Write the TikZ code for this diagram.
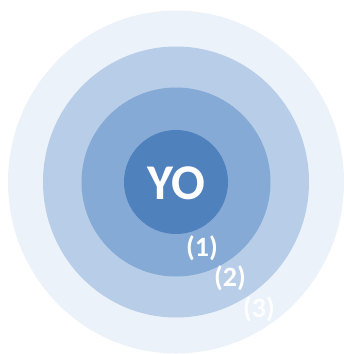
\documentclass[tikz,border=0pt]{standalone}
\usepackage{fontspec}
\setmainfont{Carlito}
\definecolor{azul1}{HTML}{4F81BD}
\definecolor{azul2}{HTML}{85AAD6}
\definecolor{azul3}{HTML}{B8CDE7}
\definecolor{azul4}{HTML}{ECF2F9}
\tikzset{
  etiqueta/.style={text=white, font=\fontsize{28}{30}\selectfont\bfseries},
}
\begin{document}
\begin{tikzpicture}[x=1pt, y=-1pt]
\useasboundingbox (0,0) rectangle (344,354);
% Circulos concentricos
\fill[azul4] (176,182) ellipse [x radius=168, y radius=171.5];
\fill[azul3] (176,182) ellipse [x radius=133, y radius=135.5];
\fill[azul2] (176,182) circle (94.5);
\fill[azul1] (176,182) circle (52);
% Texto central
\node[text=white, font=\fontsize{50}{52}\selectfont\bfseries] (yo) at (176,183) {YO};
% Niveles
\node[etiqueta] (n1) at (202,248.5) {(1)};
\node[etiqueta] (n2) at (230,278.5) {(2)};
\node[etiqueta, text opacity=0.9] (n3) at (259,309.5) {(3)};
\end{tikzpicture}
\end{document}
